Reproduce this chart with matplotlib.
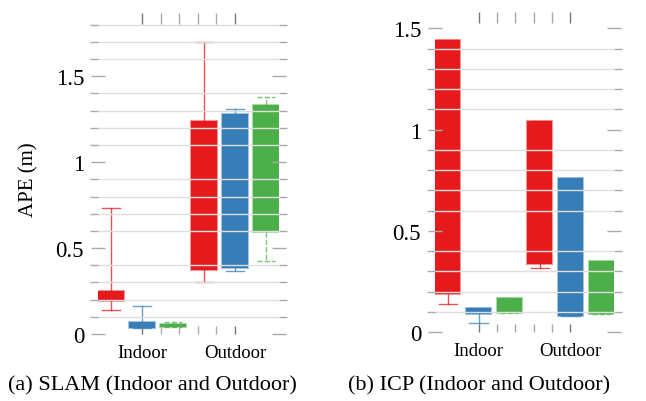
import matplotlib.pyplot as plt
from matplotlib.colors import to_rgba
from matplotlib.ticker import MultipleLocator, FixedLocator

plt.rcParams['font.family'] = ['Liberation Serif', 'DejaVu Serif']

colors = ['#e41a1c', '#377eb8', '#4daf4a', '#e41a1c', '#377eb8', '#4daf4a']
groups = ['Indoor', 'Outdoor']

# SLAM: (whisker low, q1, q3, whisker high), order: indoor r/b/g, outdoor r/b/g
slam_wlo = [0.14, 0.035, 0.039, 0.30, 0.365, 0.423]
slam_q1 = [0.19, 0.035, 0.039, 0.374, 0.384, 0.594]
slam_q3 = [0.25, 0.072, 0.058, 1.242, 1.28, 1.333]
slam_whi = [0.732, 0.165, 0.068, 1.70, 1.31, 1.381]

# ICP
icp_wlo = [0.14, 0.046, 0.095, 0.316, 0.079, 0.092]
icp_q1 = [0.187, 0.09, 0.095, 0.335, 0.079, 0.092]
icp_q3 = [1.444, 0.12, 0.168, 1.042, 0.763, 0.352]
icp_whi = [1.444, 0.12, 0.168, 1.042, 0.763, 0.352]

fig = plt.figure(figsize=(6.46, 4.02), dpi=100)
W, H = 646, 402
ax1 = fig.add_axes([98 / W, (H - 335) / H, (279 - 98) / W, (335 - 25) / H])
ax2 = fig.add_axes([435 / W, (H - 333.3) / H, (614 - 435) / W, (333.3 - 24) / H])


def draw(ax, wlo, q1, q3, whi, ymax):
    for i in range(6):
        st = [dict(med=q1[i], q1=q1[i], q3=q3[i], whislo=wlo[i], whishi=whi[i], fliers=[])]
        ls = '--' if i % 3 == 2 else '-'
        c = colors[i]
        ax.bxp(st, positions=[i], widths=0.82, capwidths=0.6, patch_artist=True,
               showfliers=False, manage_ticks=False,
               boxprops=dict(facecolor=c, edgecolor=to_rgba(c, 0.45), linewidth=1.5),
               whiskerprops=dict(color=c, linewidth=1, linestyle=ls, alpha=0.75),
               capprops=dict(color=c, linewidth=1, linestyle=ls, alpha=0.75),
               medianprops=dict(color=c, linewidth=0))
    ax.set_xlim(-0.42, 5.42)
    ax.set_ylim(0, ymax)
    for s in ax.spines.values():
        s.set_visible(False)
    ax.yaxis.set_major_locator(FixedLocator([0, 0.5, 1, 1.5]))
    ax.yaxis.set_major_formatter(plt.FuncFormatter(lambda v, p: '%g' % v))
    ax.yaxis.set_minor_locator(MultipleLocator(0.1))
    ax.tick_params(axis='y', which='major', direction='inout', length=10, width=1,
                   color='#aaaaaa', left=True, right=True, labelsize=16.5, pad=5)
    ax.tick_params(axis='y', which='minor', direction='out', length=5.8, width=1,
                   color='#aaaaaa', left=True, right=True)
    ax.grid(True, which='minor', axis='y', color='#dedede', linewidth=1, zorder=5)
    ax.set_axisbelow(False)
    ax.set_xticks([1, 4])
    ax.set_xticklabels(groups)
    ax.xaxis.set_minor_locator(FixedLocator([1.6, 2.2, 2.8, 3.4]))
    ax.tick_params(axis='x', which='major', direction='in', length=5.8, width=1,
                   color='#777777', labelsize=13.5, pad=7, top=False)
    ax.tick_params(axis='x', which='minor', direction='in', length=5.8, width=1,
                   color='#aaaaaa', top=False)
    sec = ax.secondary_xaxis('top')
    sec.set_xticks([1, 4])
    sec.set_xticklabels([])
    sec.xaxis.set_minor_locator(FixedLocator([1.6, 2.2, 2.8, 3.4]))
    sec.tick_params(axis='x', which='major', direction='out', length=7.9, width=1,
                    color='#777777', pad=0)
    sec.tick_params(axis='x', which='minor', direction='out', length=7.9, width=1,
                    color='#aaaaaa')
    sec.spines['top'].set_visible(False)


draw(ax1, slam_wlo, slam_q1, slam_q3, slam_whi, 1.804)
draw(ax2, icp_wlo, icp_q1, icp_q3, icp_whi, 1.526)

ax1.set_ylabel('APE (m)', fontsize=15, labelpad=12)

fig.text(152 / W, 1 - 386 / H, '(a) SLAM (Indoor and Outdoor)', ha='center', va='center', fontsize=16)
fig.text(479 / W, 1 - 386 / H, '(b) ICP (Indoor and Outdoor)', ha='center', va='center', fontsize=16)

fig.savefig('out.png', dpi=100)
